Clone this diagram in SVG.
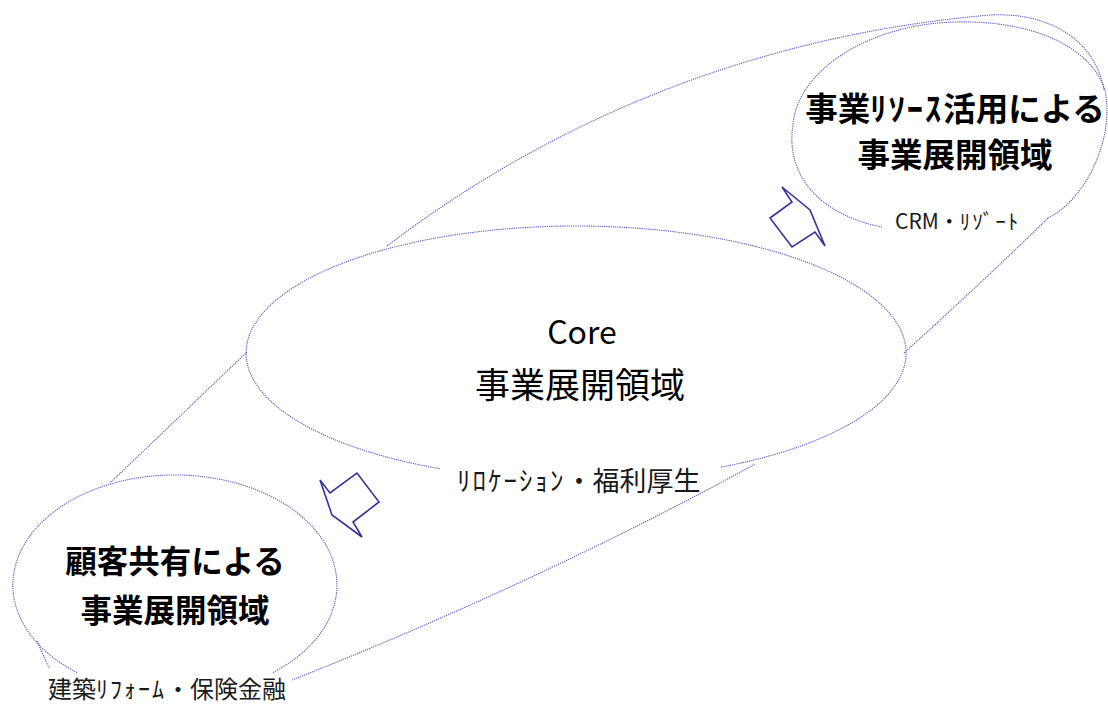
<svg xmlns="http://www.w3.org/2000/svg" width="1108" height="704" viewBox="0 0 1108 704">
<style>
.ol{fill:none;stroke:#6262c0;stroke-width:1.1;stroke-dasharray:1.3 0.9}
.ar{fill:#ffffff;stroke:#34349a;stroke-width:1.6;stroke-linejoin:miter}
.t{font-family:"Noto Sans CJK JP","Noto Sans",sans-serif;fill:#000}
.tb{font-weight:bold}
.lb{fill:#1a1a1a}
.hk{letter-spacing:2px}
</style>
<rect width="1108" height="704" fill="#ffffff"/>
<g id="connectors">
<path class="ol" d="M387,246 C500,160 700,40 990,15 C1050,12 1095,40 1104,90"/>
<path class="ol" d="M904,353 Q990,275 1048,218"/>
<path class="ol" d="M247,352 L110,483"/>
<path class="ol" d="M755,464 C690,500 520,590 292,680"/>
<path class="ol" d="M37,641 L49,668"/>
<polygon class="ar" points="782,187 810,210 825,246 815,232 792,247 770,218 792,202"/>
<polygon class="ar" points="320,480 330,493 357,473 379,502 353,522 362,537 332,515"/>
</g>
<g id="node-resource">
<path class="ol" d="M882,227 C820,215 785,175 793,125 C797,70 870,24 955,22 C1030,20 1090,45 1105,90 C1115,140 1085,200 1048,218"/>
<text class="t tb" x="955" y="121" font-size="32.5" text-anchor="middle">事業<tspan class="hk">ﾘｿｰｽ</tspan>活用による</text>
<text class="t tb" x="955" y="167" font-size="32.5" text-anchor="middle">事業展開領域</text>
<text class="t lb" x="895" y="229" font-size="21">CRM・<tspan class="hk">ﾘｿﾞｰﾄ</tspan></text>
</g>
<g id="node-core">
<path class="ol" d="M440,468.7 A330 127 0 1 1 720,467.3"/>
<text class="t" x="582" y="344" font-size="32" text-anchor="middle">Core</text>
<text class="t" x="580" y="398" font-size="35" text-anchor="middle">事業展開領域</text>
<text class="t lb" x="457" y="491" font-size="27"><tspan class="hk">ﾘﾛｹｰｼｮﾝ</tspan>・福利厚生</text>
</g>
<g id="node-customer">
<path class="ol" d="M77,672.6 A162 110 0 1 1 272,673"/>
<text class="t tb" x="175" y="573" font-size="31.5" text-anchor="middle">顧客共有による</text>
<text class="t tb" x="175" y="622" font-size="31.5" text-anchor="middle">事業展開領域</text>
<text class="t lb" x="48" y="698" font-size="24">建築<tspan class="hk">ﾘﾌｫｰﾑ</tspan>・保険金融</text>
</g>
</svg>
